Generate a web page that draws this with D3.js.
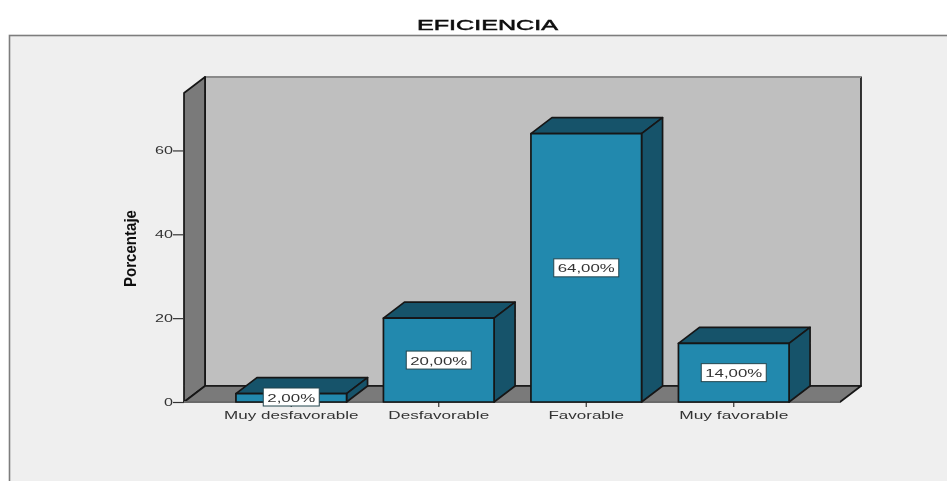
<!DOCTYPE html>
<html>
<head>
<meta charset="utf-8">
<script src="https://cdn.jsdelivr.net/npm/d3@7"></script>
<style>
  html, body { margin: 0; padding: 0; background: #fff; }
  svg { display: block; }
  text { font-family: "Liberation Sans", Arial, sans-serif; }
</style>
</head>
<body>
<div id="grafico"></div>
<script>
const categorias = ["Muy desfavorable", "Desfavorable", "Favorable", "Muy favorable"];
const porcentajes = [2, 20, 64, 14];
const etiquetas = ["2,00%", "20,00%", "64,00%", "14,00%"];
const ticks_y = [0, 20, 40, 60];

const ancho = 947, alto = 481;
const dx = 21, dy = -16;   // profundidad del efecto 3D

const svg = d3.select("#grafico").append("svg")
    .attr("width", ancho)
    .attr("height", alto);

// la imagen original esta algo borrosa
const defs = svg.append("defs");
defs.append("filter").attr("id", "borroso")
    .attr("x", "-5%").attr("y", "-5%").attr("width", "110%").attr("height", "110%")
    .append("feGaussianBlur").attr("stdDeviation", 0.55);

const raiz = svg.append("g").attr("filter", "url(#borroso)");

const y = d3.scaleLinear().domain([0, 73.7]).range([402, 93]);
const x = d3.scaleBand().domain(categorias).range([217.5, 807.5])
    .paddingInner(0.25).paddingOuter(0.125);

const xIzq = 184, xDer = 840;
const base = y(0), tope = y.range()[1];

function poligono(puntos, relleno){
    return raiz.append("polygon")
        .attr("points", puntos.map(p => p.join(",")).join(" "))
        .attr("fill", relleno)
        .attr("stroke", "#161616")
        .attr("stroke-width", 1.7)
        .attr("stroke-linejoin", "round");
}

// marco exterior
raiz.append("rect")
    .attr("x", 9.5).attr("y", 35.5)
    .attr("width", ancho + 10).attr("height", alto + 10)
    .attr("fill", "#efefef")
    .attr("stroke", "#7d7d7d")
    .attr("stroke-width", 1.6);

// paredes y piso
poligono([[xIzq + dx, tope + dy], [xDer + dx, tope + dy], [xDer + dx, base + dy], [xIzq + dx, base + dy]], "#bfbfbf");
poligono([[xIzq, tope], [xIzq + dx, tope + dy], [xIzq + dx, base + dy], [xIzq, base]], "#7a7a7a");
poligono([[xIzq, base], [xIzq + dx, base + dy], [xDer + dx, base + dy], [xDer, base]], "#7a7a7a");
raiz.append("line")
    .attr("x1", xIzq + dx + 1).attr("x2", xDer + dx)
    .attr("y1", tope + dy).attr("y2", tope + dy)
    .attr("stroke", "#8a8a8a").attr("stroke-width", 1.8);
raiz.append("line")
    .attr("x1", xIzq).attr("x2", xDer)
    .attr("y1", base).attr("y2", base)
    .attr("stroke", "#6a6a6a").attr("stroke-width", 1.8);

// eje y
const ejeY = raiz.append("g")
    .attr("transform", `translate(${xIzq},0)`)
    .call(d3.axisLeft(y).tickValues(ticks_y).tickSize(11).tickPadding(0).tickSizeOuter(0));
ejeY.select(".domain").remove();
ejeY.selectAll("line").attr("stroke", "#333").attr("stroke-width", 1.2);
ejeY.selectAll("text")
    .attr("font-size", 10.5)
    .attr("fill", "#333")
    .each(function(d){
        d3.select(this)
            .attr("textLength", String(d).length * 9)
            .attr("lengthAdjust", "spacingAndGlyphs");
    });

// eje x
const ejeX = raiz.append("g")
    .attr("transform", `translate(0,${base})`)
    .call(d3.axisBottom(x).tickSize(5).tickPadding(2).tickSizeOuter(0));
ejeX.select(".domain").remove();
ejeX.selectAll("line").attr("stroke", "#333").attr("stroke-width", 1.2);
ejeX.selectAll("text")
    .attr("font-size", 10.5)
    .attr("fill", "#333")
    .attr("dy", "0.95em")
    .each(function(d){
        d3.select(this)
            .attr("textLength", d.length * 8.4)
            .attr("lengthAdjust", "spacingAndGlyphs");
    });

// barras
categorias.forEach((c, i) => {
    const x0 = x(c), x1 = x0 + x.bandwidth(), yv = y(porcentajes[i]);
    poligono([[x0, yv], [x0 + dx, yv + dy], [x1 + dx, yv + dy], [x1, yv]], "#16536a");
    poligono([[x1, yv], [x1 + dx, yv + dy], [x1 + dx, base + dy], [x1, base]], "#16536a");
    poligono([[x0, yv], [x1, yv], [x1, base], [x0, base]], "#2289ae");
});

// etiquetas de valor
categorias.forEach((c, i) => {
    const cx = x(c) + x.bandwidth() / 2;
    const cy = i === 0 ? 397 : (y(porcentajes[i]) + base) / 2;
    const w = etiquetas[i].length === 5 ? 56 : 65;
    raiz.append("rect")
        .attr("x", cx - w / 2).attr("y", cy - 9)
        .attr("width", w).attr("height", 18)
        .attr("fill", "#fff")
        .attr("stroke", "#23464f")
        .attr("stroke-width", 1);
    raiz.append("text")
        .attr("x", cx).attr("y", cy + 4.5)
        .attr("text-anchor", "middle")
        .attr("font-size", 11.5)
        .attr("fill", "#333")
        .attr("textLength", w - 8)
        .attr("lengthAdjust", "spacingAndGlyphs")
        .text(etiquetas[i]);
});

// titulos
raiz.append("text")
    .attr("x", 487.5).attr("y", 29.5)
    .attr("text-anchor", "middle")
    .attr("font-size", 14)
    .attr("fill", "#111")
    .attr("stroke", "#111").attr("stroke-width", 0.5)
    .attr("textLength", 141)
    .attr("lengthAdjust", "spacingAndGlyphs")
    .text("EFICIENCIA");

raiz.append("text")
    .attr("transform", "translate(136,248.5) rotate(-90)")
    .attr("text-anchor", "middle")
    .attr("font-size", 17)
    .attr("font-weight", "bold")
    .attr("fill", "#111")
    .attr("textLength", 77)
    .attr("lengthAdjust", "spacingAndGlyphs")
    .text("Porcentaje");
</script>
</body>
</html>
